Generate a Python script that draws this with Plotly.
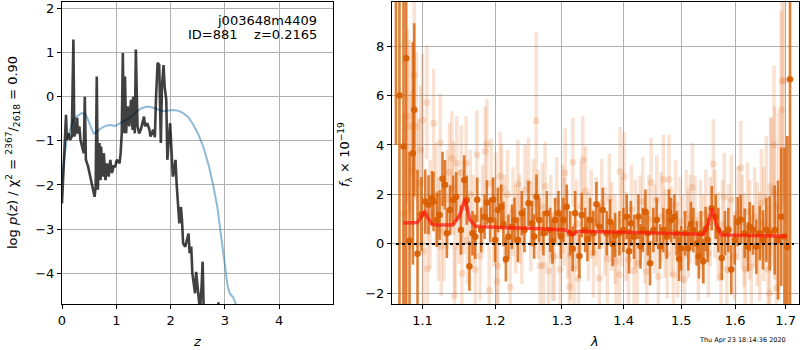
import plotly.graph_objects as go

# ---------------- left panel: p(z) ----------------
pz_z = [0.00, 0.03, 0.05, 0.074, 0.09, 0.12, 0.15, 0.18, 0.21, 0.227,
        0.26, 0.28, 0.29, 0.32, 0.34, 0.37, 0.40, 0.42, 0.44, 0.48,
        0.52, 0.55, 0.58, 0.60, 0.62, 0.64, 0.66, 0.69, 0.71, 0.72,
        0.75, 0.77, 0.80, 0.83, 0.86, 0.89, 0.92, 0.95, 0.98, 1.01,
        1.06, 1.08, 1.10, 1.12, 1.14, 1.16, 1.18, 1.21, 1.24, 1.27,
        1.30, 1.31, 1.34, 1.36, 1.39, 1.42, 1.45, 1.49, 1.51, 1.53,
        1.57, 1.61, 1.63, 1.68, 1.71, 1.73, 1.76, 1.79, 1.82, 1.84,
        1.87, 1.89, 1.92, 1.94, 1.96, 1.99, 2.01, 2.04, 2.06, 2.09,
        2.11, 2.14, 2.16, 2.19, 2.21, 2.23, 2.27, 2.30, 2.33, 2.35,
        2.38, 2.40, 2.43, 2.45, 2.47, 2.50, 2.52, 2.54, 2.57, 2.59,
        2.61, 2.66, 2.75, 2.84, 2.88, 2.92, 3.10, 3.50]
pz_log = [-2.42, -1.73, -0.98, -0.41, -0.98, -0.83, -0.98, -0.90, 1.30, -0.90,
          -0.75, -0.48, -0.83, -0.67, -0.98, -1.13, -1.28, 0.00, -1.43, -1.58,
          -1.81, -2.04, -2.23, -2.27, -2.04, 0.46, -2.11, -1.05, -1.89, -1.13,
          -1.81, -1.28, -1.89, -1.51, -1.81, -1.43, -1.73, -1.58, -1.58, -1.43,
          -1.51, -1.28, -0.83, 0.99, -0.83, 0.46, -0.83, -0.22, -0.67, -0.07,
          -0.75, 0.00, -0.83, 1.07, -0.67, -0.83, -0.75, -0.52, -0.45, -0.67,
          -0.60, -0.75, -0.90, -0.75, -0.92, -0.07, 0.77, 0.72, -1.05, 0.23,
          0.72, 0.23, -0.07, -1.43, -0.98, -0.60, -1.05, -1.81, -1.73, -1.43,
          -1.96, -2.42, -2.87, -2.50, -2.80, -3.33, -3.40, -3.25, -3.10, -3.55,
          -3.40, -4.00, -4.31, -4.46, -3.97, -4.39, -4.61, -4.85, -4.31, -3.74,
          -4.90, -5.60, -5.90, -5.40, -4.66, -5.50, -6.50, -8.00]

prior_z = [0.00, 0.025, 0.086, 0.15, 0.21, 0.30, 0.36, 0.42, 0.455, 0.52,
           0.58, 0.64, 0.70, 0.80, 0.88, 0.98, 1.08, 1.19, 1.28, 1.375,
           1.47, 1.56, 1.65, 1.74, 1.87, 1.96, 2.05, 2.15, 2.23, 2.33,
           2.42, 2.51, 2.60, 2.70, 2.79, 2.86, 2.91, 2.96, 3.00, 3.05,
           3.09, 3.15, 3.20, 3.30, 3.50, 4.00, 5.00]
prior_log = [-1.90, -1.58, -0.98, -0.72, -0.52, -0.42, -0.37, -0.39, -0.45, -0.65,
             -0.83, -0.80, -0.73, -0.66, -0.64, -0.66, -0.60, -0.52, -0.45, -0.33,
             -0.26, -0.22, -0.24, -0.28, -0.33, -0.31, -0.30, -0.32, -0.37, -0.47,
             -0.64, -0.85, -1.13, -1.55, -2.04, -2.50, -2.95, -3.42, -3.86, -4.30,
             -4.46, -4.55, -4.70, -5.00, -5.50, -6.50, -8.00]

# ---------------- right panel: spectrum ----------------
dark_wave = [1.0655, 1.0700, 1.0752, 1.0787, 1.0830, 1.0874, 1.0891, 1.0934, 1.0985, 1.1036,
             1.1079, 1.1125, 1.1146, 1.1191, 1.1227, 1.1267, 1.1300, 1.1326, 1.1371, 1.1410,
             1.1453, 1.1518, 1.1564, 1.1600, 1.1637, 1.1679, 1.1717, 1.1745, 1.1801, 1.1850,
             1.1882, 1.1929, 1.1970, 1.2001, 1.2040, 1.2088, 1.2120, 1.2156, 1.2194, 1.2244,
             1.2282, 1.2332, 1.2391, 1.2430, 1.2490, 1.2541, 1.2575, 1.2610, 1.2651, 1.2716,
             1.2768, 1.2819, 1.2855, 1.2896, 1.2947, 1.2985, 1.3024, 1.3075, 1.3129, 1.3170,
             1.3208, 1.3276, 1.3314, 1.3367, 1.3405, 1.3447, 1.3500, 1.3550, 1.3598, 1.3653,
             1.3719, 1.3773, 1.3815, 1.3856, 1.3928, 1.3995, 1.4052, 1.4090, 1.4120, 1.4175,
             1.4249, 1.4285, 1.4324, 1.4370, 1.4410, 1.4450, 1.4507, 1.4566, 1.4624, 1.4682,
             1.4742, 1.4780, 1.4818, 1.4877, 1.4920, 1.4960, 1.4997, 1.5069, 1.5128, 1.5175,
             1.5219, 1.5281, 1.5320, 1.5360, 1.5402, 1.5445, 1.5484, 1.5558, 1.5633, 1.5682,
             1.5746, 1.5808, 1.5871, 1.5928, 1.5993, 1.6050, 1.6108, 1.6186, 1.6250, 1.6283,
             1.6348, 1.6413, 1.6480, 1.6545, 1.6610, 1.6678, 1.6778, 1.6845, 1.6911, 1.6975,
             1.7034, 1.7089]
dark_flux = [10.0, 6.0, 3.94, 7.51, 0.13, 3.66, 5.42, -0.40, 1.20, 1.71,
             1.58, 1.85, 1.71, 0.97, 1.17, 2.63, 2.39, 0.43, 1.37, 1.77,
             1.91, 0.56, 2.58, 1.77, -0.90, 0.43, 0.29, 1.78, 0.56, 1.10,
             1.67, 0.97, 1.78, 0.16, 1.37, 1.50, 0.80, -0.62, 0.29, 0.69,
             0.97, 0.16, 1.24, 0.56, 1.64, 0.83, 0.30, 1.91, 0.97, 0.43,
             1.24, 0.56, 0.10, 0.97, 1.24, 0.30, 0.97, 1.50, 0.43, -0.20,
             1.24, -0.49, 1.17, 0.56, 0.20, 0.97, 0.43, 1.60, 0.69, 1.37,
             0.43, 0.90, 0.00, 0.36, 0.43, 0.56, 1.10, -0.30, 0.83, 0.29,
             1.10, -0.10, 0.56, 1.30, 0.43, -0.78, 0.56, 0.97, -0.11, 0.56,
             0.29, 1.30, 0.97, 1.10, 0.43, -0.60, -0.18, 0.43, -0.18, 0.80,
             0.56, 0.02, -0.50, 0.43, -0.70, 0.60, 0.16, 1.44, 1.10, 0.56,
             -0.57, 0.43, 0.56, -1.04, 0.16, 0.90, 0.99, 0.43, -0.11, 0.69,
             0.56, -0.11, 0.43, 0.16, 0.56, 0.43, 0.56, 0.16, 1.10, 0.30,
             -0.14, 6.66]
dark_err = [6.0, 9.0, 12.0, 10.0, 3.6, 4.5, 3.5, 3.4, 1.5, 1.3,
            1.2, 1.1, 1.2, 1.1, 1.0, 1.1, 1.0, 1.0, 1.0, 1.0,
            1.0, 1.0, 1.0, 1.0, 1.0, 0.9, 0.9, 0.9, 0.9, 0.9,
            0.9, 0.9, 0.9, 0.9, 0.9, 0.9, 0.9, 0.9, 0.9, 0.9,
            0.9, 0.9, 0.9, 0.9, 0.9, 0.9, 0.9, 0.9, 0.9, 0.9,
            0.9, 0.9, 0.9, 0.9, 0.9, 0.9, 0.9, 0.9, 0.9, 0.9,
            0.9, 0.9, 0.9, 0.9, 0.9, 0.9, 0.9, 0.9, 0.9, 0.9,
            0.9, 0.9, 0.9, 0.9, 0.9, 0.9, 0.9, 0.9, 0.9, 0.9,
            0.9, 0.9, 0.9, 0.9, 0.9, 0.9, 0.9, 0.9, 0.9, 0.9,
            0.9, 0.9, 0.9, 0.9, 0.9, 0.9, 0.9, 0.9, 0.9, 0.9,
            0.9, 0.9, 0.9, 0.9, 0.9, 0.9, 0.9, 0.9, 0.9, 0.9,
            0.9, 0.9, 0.9, 1.0, 1.0, 1.0, 1.0, 1.0, 1.0, 1.0,
            1.0, 1.1, 1.1, 1.2, 1.3, 1.5, 1.8, 2.4, 2.8, 3.6,
            4.5, 12.0]

light_wave = [1.0760, 1.0804, 1.0830, 1.0860, 1.0891, 1.0920, 1.0947, 1.0975, 1.1000, 1.1013,
              1.1058, 1.1066, 1.1100, 1.1146, 1.1180, 1.1210, 1.1236, 1.1250, 1.1285, 1.1330,
              1.1360, 1.1394, 1.1416, 1.1429, 1.1438, 1.1461, 1.1490, 1.1522, 1.1532, 1.1560,
              1.1591, 1.1609, 1.1650, 1.1690, 1.1717, 1.1741, 1.1787, 1.1820, 1.1858, 1.1882,
              1.1915, 1.1943, 1.1980, 1.2011, 1.2025, 1.2040, 1.2073, 1.2095, 1.2140, 1.2180,
              1.2219, 1.2260, 1.2300, 1.2332, 1.2360, 1.2391, 1.2440, 1.2490, 1.2525, 1.2565,
              1.2606, 1.2635, 1.2666, 1.2700, 1.2716, 1.2742, 1.2793, 1.2830, 1.2855, 1.2885,
              1.2922, 1.2973, 1.3010, 1.3035, 1.3051, 1.3090, 1.3118, 1.3140, 1.3172, 1.3192,
              1.3230, 1.3261, 1.3300, 1.3330, 1.3375, 1.3420, 1.3465, 1.3500, 1.3545, 1.3598,
              1.3637, 1.3690, 1.3730, 1.3761, 1.3800, 1.3856, 1.3870, 1.3928, 1.3940, 1.3970,
              1.4007, 1.4040, 1.4080, 1.4130, 1.4175, 1.4200, 1.4232, 1.4278, 1.4324, 1.4360,
              1.4393, 1.4430, 1.4468, 1.4530, 1.4566, 1.4594, 1.4640, 1.4682, 1.4712, 1.4750,
              1.4782, 1.4820, 1.4859, 1.4902, 1.4935, 1.4980, 1.5020, 1.5056, 1.5090, 1.5128,
              1.5160, 1.5201, 1.5250, 1.5311, 1.5350, 1.5400, 1.5450, 1.5495, 1.5530, 1.5588,
              1.5620, 1.5680, 1.5733, 1.5760, 1.5795, 1.5841, 1.5880, 1.5928, 1.5993, 1.6057,
              1.6108, 1.6140, 1.6173, 1.6195, 1.6240, 1.6283, 1.6314, 1.6380, 1.6430, 1.6480,
              1.6512, 1.6560, 1.6610, 1.6644, 1.6678, 1.6698, 1.6710, 1.6764, 1.6778, 1.6811,
              1.6860, 1.6911, 1.6925, 1.6973]
light_flux = [1.24, 5.16, 4.75, 3.00, 6.84, 4.75, 2.45, 3.80, 5.00, -0.31,
              5.72, -1.00, 1.20, 4.88, 2.00, 0.60, 4.09, -0.11, 0.50, 1.80,
              2.90, 3.46, 2.25, -2.10, -0.11, 3.26, 1.10, 2.89, -1.20, 1.50,
              3.26, 0.16, 2.00, 1.00, -1.04, 3.60, -0.50, 1.40, 3.75, 4.05,
              -1.87, 2.45, 0.90, 1.89, -1.52, -0.89, 2.73, 2.25, 1.00, 2.00,
              -1.75, 1.30, 0.60, 2.42, 1.00, 0.16, 2.20, 2.50, 0.70, 1.64,
              4.98, 1.20, -0.89, 1.50, -0.86, 2.33, -1.10, 1.00, -0.51, -0.50,
              1.71, -1.04, 1.40, 0.90, 2.88, 0.40, -1.73, -0.45, 3.30, -1.00,
              0.80, -1.39, 1.50, 3.39, 2.15, 0.30, 1.20, -0.37, 0.90, -1.39,
              1.64, 0.50, -0.60, 1.84, 0.70, 0.18, -0.70, -1.25, 2.93, 0.90,
              2.72, 0.30, -0.64, 1.40, -1.08, 0.80, -0.78, 0.97, 1.71, 0.20,
              -1.12, 1.00, 2.48, 0.60, 1.78, -1.32, 1.10, 2.61, 0.43, -0.40,
              2.61, 0.50, -1.25, 1.58, -0.37, 0.90, 0.20, -1.43, 1.20, 0.43,
              1.00, 2.29, 0.97, -0.51, 0.80, 0.20, 1.20, -0.37, 0.90, 3.24,
              1.20, 0.30, -1.32, 0.80, 1.89, -1.04, 0.60, 1.78, -0.50, 1.24,
              3.07, 0.90, 0.16, -1.04, 1.30, 0.56, -0.92, 1.10, 0.40, -0.11,
              1.64, 0.80, 1.84, -1.04, -2.00, 2.32, 2.09, 4.00, 2.05, -1.78,
              1.50, 5.41, 6.60, 6.60]
light_err = [4.0, 3.5, 3.5, 3.2, 3.0, 3.0, 2.6, 2.6, 2.7, 2.3,
             2.3, 2.2, 2.2, 2.2, 2.1, 2.1, 2.0, 2.0, 2.0, 2.0,
             2.0, 1.9, 1.9, 1.9, 1.9, 1.9, 1.9, 1.9, 1.9, 1.9,
             1.9, 1.8, 1.8, 1.8, 1.8, 1.8, 1.8, 1.8, 1.8, 1.8,
             1.8, 1.8, 1.8, 1.8, 1.8, 1.8, 1.8, 1.8, 1.8, 1.8,
             1.8, 1.8, 1.8, 1.8, 1.8, 1.8, 1.8, 1.8, 1.8, 1.8,
             3.6, 1.8, 1.8, 1.8, 1.8, 1.8, 1.8, 1.8, 1.8, 1.8,
             1.8, 1.8, 1.8, 1.8, 1.8, 1.8, 1.8, 1.8, 1.8, 1.8,
             1.8, 1.8, 1.8, 1.8, 1.8, 1.8, 1.8, 1.8, 1.8, 1.8,
             1.8, 1.8, 1.8, 1.8, 1.8, 1.8, 1.8, 1.8, 1.8, 1.8,
             1.8, 1.8, 1.8, 1.8, 1.8, 1.8, 1.8, 1.8, 1.8, 1.8,
             1.8, 1.8, 1.8, 1.8, 1.8, 1.8, 1.8, 1.8, 1.8, 1.8,
             1.8, 1.8, 1.8, 1.8, 1.8, 1.8, 1.8, 1.8, 1.8, 1.8,
             1.8, 1.8, 1.8, 1.8, 1.8, 1.8, 1.8, 1.8, 1.8, 1.8,
             1.8, 1.8, 1.8, 1.8, 1.8, 1.8, 1.8, 1.8, 1.8, 1.9,
             1.9, 1.9, 1.9, 1.9, 2.0, 2.0, 2.0, 2.0, 2.1, 2.2,
             2.2, 2.3, 2.5, 2.6, 2.8, 2.8, 3.0, 3.2, 3.5, 3.5,
             3.8, 4.0, 4.5, 5.0]

model_wave = [1.075, 1.093, 1.0985, 1.1026, 1.107, 1.1125, 1.120, 1.1408, 1.150, 1.1577,
              1.1643, 1.172, 1.180, 1.200, 1.250, 1.305, 1.312, 1.3165, 1.322, 1.330,
              1.400, 1.450, 1.500, 1.540, 1.548, 1.5565, 1.565, 1.574, 1.600, 1.650,
              1.702]
model_flux = [0.84, 0.86, 1.10, 1.32, 1.05, 0.80, 0.76, 0.76, 1.15, 1.82,
              0.97, 0.72, 0.69, 0.68, 0.63, 0.56, 0.50, 0.36, 0.48, 0.51,
              0.48, 0.45, 0.41, 0.39, 0.75, 1.42, 0.75, 0.37, 0.35, 0.33,
              0.31]

zero_wave = [1.0655, 1.717]
zero_flux = [0.0, 0.0]

left_xticks = [0, 1, 2, 3, 4]
left_yticks = [-4, -3, -2, -1, 0, 1, 2]
right_xticks = [1.1, 1.2, 1.3, 1.4, 1.5, 1.6, 1.7]
right_yticks = [-2, 0, 2, 4, 6, 8]

def lbl(v):
    s = f"{v:g}"
    return s.replace("-", "\u2212")

W, H = 800, 350
FONT = "DejaVu Sans"

fig = go.Figure()

fig.add_trace(go.Scatter(x=prior_z, y=prior_log, mode="lines",
                         line=dict(color="rgba(31,119,180,0.5)", width=2),
                         xaxis="x", yaxis="y", hoverinfo="skip"))
fig.add_trace(go.Scatter(x=pz_z, y=pz_log, mode="lines",
                         line=dict(color="rgba(0,0,0,0.75)", width=2.6),
                         xaxis="x", yaxis="y", hoverinfo="skip"))

fig.add_trace(go.Scatter(x=light_wave, y=light_flux, mode="markers",
                         marker=dict(color="rgba(226,112,30,0.2)", size=7, line=dict(width=0)),
                         error_y=dict(type="data", array=light_err, visible=True,
                                      color="rgba(226,112,30,0.2)", thickness=3.5, width=0),
                         xaxis="x2", yaxis="y2", hoverinfo="skip"))
fig.add_trace(go.Scatter(x=dark_wave, y=dark_flux, mode="markers",
                         marker=dict(color="rgba(217,95,2,0.95)", size=6.5, line=dict(width=0)),
                         error_y=dict(type="data", array=dark_err, visible=True,
                                      color="rgba(217,95,2,0.8)", thickness=2.6, width=0),
                         xaxis="x2", yaxis="y2", hoverinfo="skip"))
fig.add_trace(go.Scatter(x=model_wave, y=model_flux, mode="lines",
                         line=dict(color="rgba(255,20,10,0.7)", width=3.5),
                         xaxis="x2", yaxis="y2", hoverinfo="skip"))
fig.add_trace(go.Scatter(x=zero_wave, y=zero_flux, mode="lines",
                         line=dict(color="black", width=2, dash="dot"),
                         xaxis="x2", yaxis="y2", hoverinfo="skip"))

ydom = [1 - 304 / H, 1 - 1.5 / H]
common = dict(showline=True, linecolor="black", linewidth=1, mirror=True,
              ticks="outside", ticklen=4, tickwidth=1, tickcolor="black",
              showgrid=True, gridcolor="#b0b0b0", gridwidth=1, zeroline=False,
              automargin=False,
              tickfont=dict(family=FONT, size=13, color="black"))

fig.update_layout(
    template="none",
    width=W, height=H,
    margin=dict(l=0, r=0, t=0, b=0, pad=0),
    paper_bgcolor="white", plot_bgcolor="white",
    showlegend=False,
    xaxis=dict(domain=[62 / W, 333 / W], range=[0, 4.99], anchor="y",
               tickvals=left_xticks, ticktext=[lbl(v) for v in left_xticks], **common),
    yaxis=dict(domain=ydom, range=[-4.70, 2.16], anchor="x",
               tickvals=left_yticks, ticktext=[lbl(v) for v in left_yticks], **common),
    xaxis2=dict(domain=[392 / W, 799 / W], type="log", range=[0.0255, 0.2374], anchor="y2",
                tickvals=right_xticks, ticktext=[lbl(v) for v in right_xticks], **common),
    yaxis2=dict(domain=ydom, range=[-2.43, 9.8], anchor="x2",
                tickvals=right_yticks, ticktext=[lbl(v) for v in right_yticks], **common),
)

def ann(text, x, y, size=13, xanchor="center", yanchor="middle", angle=0):
    fig.add_annotation(text=text, x=x / W, y=1 - y / H, xref="paper", yref="paper",
                       showarrow=False, xanchor=xanchor, yanchor=yanchor, textangle=angle,
                       font=dict(family=FONT, size=size, color="black"))

ann("j003648m4409", 319, 20, xanchor="right")
ann("ID=881\u00a0\u00a0\u00a0\u00a0z=0.2165", 319, 35, xanchor="right")
ann("log <i>p</i>(<i>z</i>) / χ<sup>2</sup> = <sup>2367</sup>/<sub>2618</sub> = 0.90", 13, 153, angle=-90)
ann("<i>z</i>", 197, 341)
ann("<i>f</i><sub>λ</sub> × 10<sup>\u221219</sup>", 345, 155, angle=-90)
ann("<i>λ</i>", 594, 341)
ann("Thu Apr 23 18:14:36 2020", 742, 340, size=6.5)

fig.write_html("out.html", config={"displayModeBar": False},
               post_script="document.body.style.margin='0';document.body.style.overflow='hidden';")
